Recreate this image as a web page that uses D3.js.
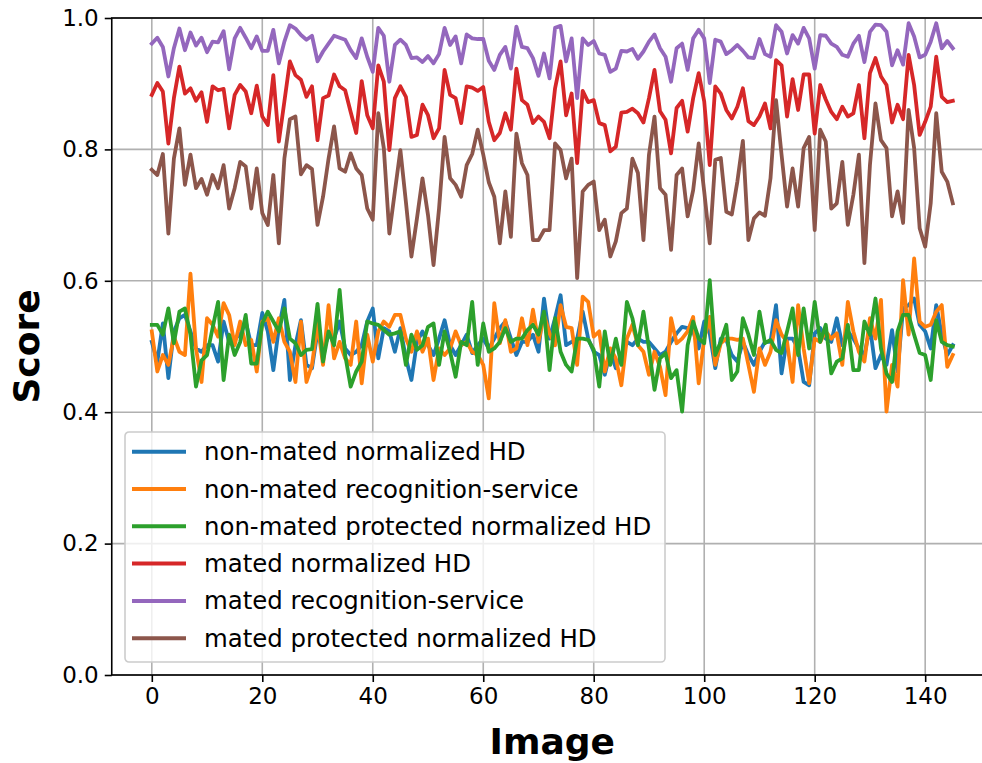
<!DOCTYPE html>
<html>
<head>
<meta charset="utf-8">
<script src="https://cdn.jsdelivr.net/npm/d3@7"></script>
<style>
  body { margin: 0; background: #fff; }
  svg { font-family: "DejaVu Sans", sans-serif; }
</style>
</head>
<body>
<div id="chart"></div>
<script>
// series names, in draw order
var seriesNames = [
  "non-mated normalized HD",
  "non-mated recognition-service",
  "non-mated protected normalized HD",
  "mated normalized HD",
  "mated recognition-service",
  "mated protected normalized HD"
];
var seriesColors = ["#1f77b4", "#ff7f0e", "#2ca02c", "#d62728", "#9467bd", "#8c564b"];

var xTicks = [0, 20, 40, 60, 80, 100, 120, 140];
var yTicks = [0, 0.2, 0.4, 0.6, 0.8, 1.0];

// values, one per image index 0..145
var nonMatedHD = [
  0.507,0.477,0.535,0.452,0.523,0.543,0.548,0.523,0.497,0.492,0.502,0.502,0.477,0.538,0.507,0.512,0.518,0.538,0.502,0.502,0.551,0.523,0.464,0.528,0.571,0.449,0.502,0.540,0.472,0.467,0.523,
  0.492,0.518,0.512,0.538,0.497,0.487,0.492,0.502,0.538,0.558,0.482,0.528,0.523,0.492,0.528,0.482,0.449,0.507,0.523,0.502,0.487,0.512,0.540,0.502,0.487,0.502,0.518,0.490,0.502,
  0.512,0.497,0.512,0.528,0.538,0.512,0.487,0.507,0.507,0.518,0.492,0.573,0.512,0.543,0.578,0.502,0.507,0.512,0.553,0.512,0.492,0.487,0.457,0.492,0.467,0.487,0.507,0.502,0.512,0.507,0.507,
  0.497,0.487,0.492,0.507,0.520,0.530,0.528,0.523,0.497,0.538,0.520,0.467,0.512,0.510,0.487,0.477,0.507,0.487,0.472,0.492,0.507,0.507,0.563,0.459,0.512,0.512,0.497,0.446,0.441,0.520,0.528,
  0.512,0.507,0.543,0.502,0.523,0.512,0.497,0.487,0.530,0.467,0.487,0.472,0.525,0.462,0.558,0.563,0.573,0.533,0.523,0.497,0.563,0.518,0.487,0.502
];
var nonMatedService = [
  0.523,0.462,0.487,0.472,0.515,0.492,0.487,0.611,0.497,0.446,0.543,0.533,0.515,0.566,0.548,0.502,0.538,0.502,0.510,0.462,0.538,0.543,0.507,0.543,0.507,0.492,0.446,0.538,0.446,0.472,0.535,
  0.472,0.563,0.482,0.507,0.482,0.472,0.538,0.444,0.518,0.477,0.523,0.538,0.530,0.548,0.548,0.512,0.492,0.523,0.492,0.512,0.449,0.497,0.487,0.497,0.523,0.502,0.507,0.492,0.487,
  0.472,0.421,0.566,0.505,0.540,0.492,0.497,0.543,0.502,0.556,0.507,0.548,0.520,0.502,0.563,0.530,0.528,0.472,0.576,0.568,0.515,0.523,0.462,0.497,0.482,0.441,0.512,0.533,0.502,0.492,0.457,
  0.492,0.469,0.426,0.543,0.505,0.512,0.523,0.545,0.444,0.512,0.545,0.472,0.505,0.512,0.512,0.510,0.512,0.472,0.431,0.497,0.472,0.492,0.540,0.518,0.507,0.446,0.563,0.497,0.444,0.512,0.507,
  0.523,0.512,0.520,0.472,0.568,0.523,0.492,0.477,0.543,0.512,0.571,0.401,0.472,0.439,0.601,0.518,0.634,0.538,0.530,0.533,0.553,0.563,0.469,0.487
];
var nonMatedProtected = [
  0.533,0.533,0.518,0.558,0.505,0.553,0.558,0.518,0.439,0.479,0.487,0.528,0.568,0.449,0.518,0.487,0.507,0.548,0.474,0.474,0.535,0.553,0.538,0.523,0.558,0.512,0.505,0.487,0.495,0.496,0.565,
  0.477,0.523,0.502,0.586,0.487,0.439,0.462,0.477,0.538,0.535,0.533,0.525,0.518,0.520,0.523,0.472,0.518,0.495,0.502,0.530,0.535,0.472,0.523,0.492,0.454,0.507,0.502,0.568,0.472,
  0.535,0.492,0.497,0.507,0.528,0.507,0.512,0.512,0.525,0.533,0.518,0.553,0.464,0.543,0.492,0.472,0.462,0.512,0.512,0.510,0.495,0.439,0.523,0.472,0.512,0.472,0.568,0.543,0.502,0.553,0.497,
  0.434,0.482,0.490,0.452,0.464,0.401,0.502,0.538,0.512,0.505,0.601,0.487,0.507,0.533,0.449,0.462,0.543,0.518,0.487,0.553,0.505,0.510,0.495,0.490,0.523,0.558,0.487,0.558,0.497,0.568,0.507,
  0.533,0.459,0.477,0.482,0.533,0.464,0.464,0.538,0.518,0.573,0.497,0.459,0.446,0.523,0.548,0.548,0.518,0.490,0.487,0.449,0.540,0.507,0.502,0.500
];
var matedHD = [
  0.883,0.901,0.888,0.809,0.878,0.926,0.885,0.893,0.874,0.887,0.842,0.896,0.890,0.892,0.832,0.883,0.898,0.888,0.855,0.897,0.850,0.837,0.913,0.812,0.873,0.934,0.913,0.906,0.880,0.896,0.814,
  0.878,0.882,0.914,0.896,0.890,0.857,0.825,0.904,0.852,0.832,0.928,0.903,0.799,0.878,0.896,0.880,0.819,0.822,0.868,0.852,0.817,0.832,0.921,0.883,0.878,0.840,0.896,0.894,0.889,
  0.895,0.842,0.814,0.825,0.855,0.830,0.923,0.875,0.868,0.840,0.850,0.842,0.817,0.893,0.934,0.852,0.885,0.779,0.889,0.872,0.875,0.840,0.837,0.797,0.804,0.856,0.857,0.862,0.855,0.841,0.878,
  0.921,0.858,0.845,0.794,0.863,0.874,0.827,0.878,0.916,0.873,0.776,0.896,0.885,0.860,0.847,0.865,0.893,0.843,0.837,0.850,0.870,0.832,0.936,0.928,0.850,0.907,0.860,0.914,0.914,0.824,0.898,
  0.876,0.857,0.846,0.865,0.850,0.855,0.898,0.817,0.916,0.939,0.911,0.898,0.841,0.868,0.846,0.944,0.898,0.822,0.842,0.865,0.941,0.880,0.872,0.874
];
var matedService = [
  0.961,0.970,0.956,0.911,0.954,0.984,0.951,0.978,0.958,0.970,0.948,0.964,0.963,0.980,0.922,0.969,0.985,0.970,0.954,0.972,0.950,0.950,0.982,0.931,0.964,0.989,0.984,0.974,0.967,0.973,0.934,
  0.949,0.961,0.973,0.970,0.967,0.951,0.939,0.969,0.941,0.918,0.985,0.973,0.903,0.959,0.967,0.959,0.939,0.940,0.933,0.942,0.931,0.945,0.985,0.959,0.972,0.931,0.975,0.969,0.968,
  0.968,0.935,0.921,0.944,0.956,0.923,0.987,0.956,0.954,0.939,0.912,0.946,0.908,0.985,0.988,0.934,0.969,0.878,0.969,0.959,0.965,0.946,0.944,0.918,0.923,0.950,0.949,0.953,0.938,0.949,0.964,
  0.975,0.954,0.941,0.903,0.954,0.961,0.921,0.969,0.982,0.969,0.901,0.967,0.964,0.945,0.951,0.959,0.950,0.940,0.939,0.968,0.945,0.941,0.989,0.979,0.946,0.974,0.961,0.985,0.969,0.923,0.974,
  0.973,0.961,0.956,0.944,0.941,0.961,0.973,0.933,0.979,0.990,0.989,0.979,0.928,0.951,0.929,0.992,0.972,0.940,0.944,0.964,0.992,0.954,0.965,0.954
];
var matedProtected = [
  0.769,0.761,0.793,0.672,0.786,0.832,0.746,0.792,0.741,0.755,0.731,0.761,0.741,0.776,0.710,0.741,0.781,0.774,0.710,0.771,0.703,0.685,0.761,0.657,0.786,0.846,0.850,0.762,0.776,0.770,0.685,
  0.728,0.786,0.835,0.771,0.766,0.794,0.771,0.761,0.710,0.693,0.855,0.802,0.672,0.736,0.799,0.720,0.637,0.695,0.756,0.700,0.624,0.710,0.819,0.756,0.746,0.728,0.776,0.793,0.830,
  0.792,0.750,0.728,0.657,0.736,0.667,0.824,0.779,0.761,0.662,0.662,0.677,0.677,0.809,0.799,0.756,0.786,0.604,0.736,0.746,0.751,0.677,0.693,0.637,0.660,0.703,0.710,0.786,0.764,0.662,0.792,
  0.850,0.741,0.731,0.647,0.761,0.771,0.698,0.738,0.809,0.736,0.657,0.784,0.787,0.705,0.701,0.751,0.813,0.662,0.695,0.704,0.699,0.756,0.875,0.792,0.713,0.771,0.713,0.802,0.819,0.677,0.830,
  0.812,0.710,0.718,0.781,0.685,0.731,0.792,0.627,0.776,0.870,0.814,0.802,0.698,0.736,0.688,0.860,0.802,0.680,0.652,0.718,0.855,0.766,0.751,0.718
];

var seriesValues = [nonMatedHD, nonMatedService, nonMatedProtected, matedHD, matedService, matedProtected];

var width = 982,
    height = 763,
    plot = {left: 111.75, right: 992.85, top: 18, bottom: 675};

var svg = d3.select("#chart")
  .append("svg")
  .attr("width", width)
  .attr("height", height);

var n = nonMatedHD.length;
var pad = (n - 1) * 0.05;
var xScale = d3.scaleLinear().domain([-pad, n - 1 + pad]).range([plot.left, plot.right]);
var yScale = d3.scaleLinear().domain([0, 1]).range([plot.bottom, plot.top]);

// grid
svg.append("g").selectAll("line")
  .data(xTicks)
  .enter().append("line")
  .attr("x1", d => xScale(d)).attr("x2", d => xScale(d))
  .attr("y1", plot.top).attr("y2", plot.bottom)
  .attr("stroke", "#b0b0b0").attr("stroke-width", 1.6);
svg.append("g").selectAll("line")
  .data(yTicks)
  .enter().append("line")
  .attr("x1", plot.left).attr("x2", plot.right)
  .attr("y1", d => yScale(d)).attr("y2", d => yScale(d))
  .attr("stroke", "#b0b0b0").attr("stroke-width", 1.6);

// lines
var line = d3.line()
  .x((d, i) => xScale(i))
  .y(d => yScale(d));

svg.append("g").selectAll("path")
  .data(seriesValues)
  .enter().append("path")
  .attr("d", d => line(d))
  .attr("fill", "none")
  .attr("stroke", (d, i) => seriesColors[i])
  .attr("stroke-width", 3.8)
  .attr("stroke-linejoin", "round")
  .attr("stroke-linecap", "square");

// axes
var xAxis = d3.axisBottom(xScale).tickValues(xTicks).tickSize(7).tickPadding(6).tickSizeOuter(0);
var yAxis = d3.axisLeft(yScale).tickValues(yTicks).tickFormat(d3.format(".1f")).tickSize(7).tickPadding(6).tickSizeOuter(0);

var gx = svg.append("g")
  .attr("transform", `translate(0,${plot.bottom})`)
  .call(xAxis);
var gy = svg.append("g")
  .attr("transform", `translate(${plot.left},0)`)
  .call(yAxis);

[gx, gy].forEach(g => {
  g.selectAll("text").attr("font-size", 23).attr("fill", "#000").attr("font-family", "DejaVu Sans");
  g.selectAll("line").attr("stroke", "#000").attr("stroke-width", 1.6);
  g.select(".domain").remove();
});

// spines
svg.append("rect")
  .attr("x", plot.left).attr("y", plot.top)
  .attr("width", plot.right - plot.left).attr("height", plot.bottom - plot.top)
  .attr("fill", "none").attr("stroke", "#000").attr("stroke-width", 1.6);

// axis titles
svg.append("text")
  .attr("x", (plot.left + plot.right) / 2)
  .attr("y", 754)
  .attr("text-anchor", "middle")
  .attr("font-size", 36).attr("font-weight", "bold")
  .text("Image");
svg.append("text")
  .attr("transform", `translate(39,${(plot.top + plot.bottom) / 2}) rotate(-90)`)
  .attr("text-anchor", "middle")
  .attr("font-size", 36).attr("font-weight", "bold")
  .text("Score");

// legend
var legend = svg.append("g").attr("transform", "translate(125,432)");
legend.append("rect")
  .attr("width", 540).attr("height", 230)
  .attr("rx", 4)
  .attr("fill", "#fff").attr("fill-opacity", 0.8)
  .attr("stroke", "#cccccc").attr("stroke-width", 1.6);

var item = legend.selectAll(".item")
  .data(seriesNames)
  .enter().append("g")
  .attr("class", "item")
  .attr("transform", (d, i) => `translate(0,${19.7 + i * 37.3})`);
item.append("line")
  .attr("x1", 7).attr("x2", 61)
  .attr("stroke", (d, i) => seriesColors[i])
  .attr("stroke-width", 4);
item.append("text")
  .attr("x", 79)
  .attr("dy", "0.35em")
  .attr("font-size", 24.4)
  .text(d => d);
</script>
</body>
</html>
